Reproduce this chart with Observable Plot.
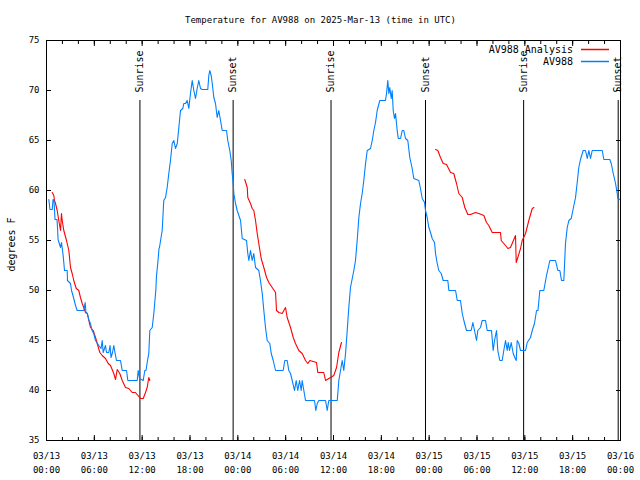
<!DOCTYPE html>
<html>
<head>
<meta charset="utf-8">
<script src="https://cdn.jsdelivr.net/npm/d3@7"></script>
<script src="https://cdn.jsdelivr.net/npm/@observablehq/plot@0.6"></script>
<style>
  html, body { margin: 0; padding: 0; background: #ffffff; }
  #chart { width: 640px; height: 480px; }
</style>
</head>
<body>
<div id="chart"></div>
<script>
// ---- Data (hours after 2025-03-13 00:00 UTC, temperature in °F) ----
const chartTitle = "Temperature for AV988 on 2025-Mar-13 (time in UTC)";
const yLabel = "degrees F";
const seriesNames = ["AV988 Analysis", "AV988"];
const startUTC = Date.UTC(2025, 2, 13, 0, 0);
const spanHours = 72;

// AV988 observations
const obsHours = [0.29,0.44,0.72,0.82,0.94,1.07,1.32,1.40,1.45,1.76,1.88,2.01,2.09,2.26,2.60,2.63,3.01,3.14,3.42,3.64,3.85,4.68,4.85,4.95,5.14,5.33,5.52,5.71,5.93,6.15,6.40,6.56,6.84,6.99,7.11,7.40,7.53,7.81,7.97,8.09,8.28,8.44,8.59,8.78,9.28,9.50,10.04,10.20,11.38,11.50,11.67,12.13,12.33,12.48,12.67,12.83,12.96,13.26,13.46,13.71,13.80,13.99,14.11,14.17,14.51,14.71,14.93,15.14,15.34,15.55,15.77,15.97,16.18,16.40,16.60,16.81,17.10,17.22,17.44,17.65,17.85,18.06,18.28,18.48,18.69,18.90,19.10,19.32,19.53,20.23,20.36,20.48,20.66,20.79,20.99,21.20,21.41,21.61,21.83,22.04,22.58,22.74,22.99,23.17,23.29,23.42,23.50,23.71,23.92,24.34,24.55,25.09,25.25,25.38,25.59,25.80,26.00,26.22,26.63,26.84,27.06,27.26,27.47,27.68,28.01,28.19,28.44,28.73,29.69,29.89,30.19,30.39,30.61,30.82,31.11,31.32,31.52,31.74,31.95,32.07,32.28,32.49,33.62,33.78,33.96,34.16,35.00,35.21,35.41,36.47,36.67,36.88,37.09,37.29,37.51,37.72,37.92,38.13,38.55,38.76,38.97,39.18,39.39,39.60,39.80,40.02,40.23,40.64,40.86,41.06,41.27,41.48,41.81,42.52,42.65,42.81,42.94,43.06,43.24,43.36,43.49,43.65,43.78,43.99,44.12,44.41,44.62,44.82,45.03,45.32,45.57,45.87,46.07,46.70,46.91,47.13,47.42,47.54,47.75,47.96,48.17,48.38,48.67,48.80,49.01,49.21,49.51,49.76,50.34,50.47,51.31,51.52,51.93,52.15,52.35,52.68,53.27,53.48,53.69,53.94,54.10,54.44,54.65,55.07,55.28,55.82,56.03,56.20,56.45,56.61,56.86,57.16,57.36,57.58,57.79,57.92,58.08,58.29,58.54,58.74,58.92,59.04,59.25,59.46,60.09,60.30,60.71,60.93,61.21,61.47,61.65,61.88,62.38,62.72,63.14,63.85,64.14,64.39,64.60,64.89,65.10,65.32,65.52,65.82,66.07,66.36,66.57,66.77,66.98,67.32,67.61,67.83,68.03,68.24,68.45,69.71,69.91,70.66,70.84,71.09,71.38,71.59,71.67,71.92];
const obsTemps = [59.1,58.1,58.1,59.1,59.0,57.1,57.1,56.0,55.1,54.3,54.8,54.0,53.5,52.0,52.0,51.0,50.7,50.0,49.2,48.5,48.0,48.0,48.8,47.8,47.7,47.0,46.7,46.0,45.7,45.0,44.7,44.5,44.2,45.0,43.8,44.5,43.8,43.8,44.5,43.3,43.8,44.5,43.8,43.0,43.0,42.0,42.0,41.0,41.0,42.0,41.2,41.0,42.0,42.0,43.0,43.7,46.0,46.3,47.7,50.0,51.5,53.0,54.2,54.3,56.0,59.0,59.3,60.3,61.7,63.0,64.7,65.0,64.2,64.7,66.3,68.0,68.2,68.7,68.7,69.0,68.2,69.7,71.0,70.0,69.2,70.2,71.0,70.2,70.1,70.1,71.5,72.0,71.5,70.7,69.3,68.7,67.3,68.0,67.0,66.0,66.0,65.0,64.0,63.0,61.7,60.7,59.7,58.7,58.0,57.0,55.2,55.0,53.7,53.0,54.0,53.0,53.7,52.3,52.0,51.0,49.7,48.0,46.3,45.0,44.7,43.7,43.0,42.0,42.0,43.0,43.0,42.0,41.7,41.0,40.0,41.0,40.0,41.0,40.0,41.0,40.0,39.0,39.0,38.0,38.7,39.0,39.0,38.0,39.0,39.0,41.0,42.0,43.0,42.0,43.7,46.0,48.3,50.3,52.0,53.0,55.0,57.3,58.7,59.7,61.0,62.7,64.0,64.2,65.0,66.0,66.8,68.0,69.0,69.0,69.7,71.0,69.7,70.3,69.2,70.0,68.0,67.2,67.7,66.0,65.2,65.2,66.0,66.0,65.2,65.0,63.3,62.2,61.2,61.0,60.2,59.2,58.8,58.0,57.3,56.3,55.8,55.2,54.8,53.7,52.7,52.0,51.7,51.0,51.0,50.0,50.0,49.0,49.0,47.7,47.0,46.0,46.0,46.8,46.0,45.0,46.0,46.3,47.0,47.0,46.0,46.0,44.0,45.0,46.0,44.0,43.0,43.0,44.0,45.0,44.0,44.8,44.0,44.8,43.7,43.3,43.0,45.0,44.7,44.0,44.0,44.8,45.3,46.0,46.7,48.0,48.0,50.0,50.0,51.5,53.0,53.0,52.0,52.0,51.0,51.0,54.7,56.3,57.0,57.2,58.2,59.3,60.8,62.3,63.1,64.0,64.0,63.2,64.0,63.2,64.0,64.0,63.1,63.1,62.7,61.7,60.7,59.7,59.2,59.1];

// AV988 Analysis: three separate runs
const anaHours1 = [0.72,0.92,1.00,1.13,1.34,1.54,1.76,1.88,1.97,2.17,2.51,2.80,3.01,3.22,3.42,3.73,4.05,4.26,4.48,4.68,4.89,5.11,5.31,5.52,5.86,6.15,6.36,6.69,6.99,7.40,7.74,8.03,8.44,8.66,8.87,9.19,9.50,9.91,10.32,10.75,11.16,11.58,11.79,12.13,12.42,12.63,12.83,12.96];
const anaTemps1 = [59.8,59.5,59.0,58.7,58.0,57.0,56.0,57.7,57.0,56.0,55.0,54.0,52.3,51.7,51.0,50.2,50.0,49.3,48.7,48.3,47.8,47.7,47.0,46.3,46.0,45.3,44.7,43.8,43.5,43.2,42.7,42.5,41.7,41.1,42.1,41.7,41.0,40.3,40.2,39.8,39.8,39.4,39.2,39.2,39.8,40.3,41.3,41.0];
const anaHours2 = [24.87,25.18,25.25,25.59,25.80,26.00,26.22,26.43,26.63,26.93,27.26,27.60,27.89,28.31,28.73,28.85,29.14,29.57,29.98,30.19,30.61,30.95,31.23,31.65,32.07,32.49,32.78,33.03,33.87,34.03,34.78,35.00,35.63,36.04,36.38,36.67,37.00];
const anaTemps2 = [61.1,60.3,59.3,58.7,58.2,58.0,57.0,55.7,54.7,53.2,52.3,51.3,50.8,50.3,49.8,48.0,47.8,47.7,48.3,47.3,46.3,45.3,44.7,44.0,43.7,43.0,42.7,43.0,42.8,41.8,41.8,41.0,41.3,41.5,42.3,43.8,44.8];
const anaHours3 = [48.80,49.09,49.42,49.76,50.18,50.68,51.09,51.43,51.72,52.15,52.47,52.85,53.19,53.81,54.23,54.86,55.19,55.48,55.91,56.95,57.04,57.58,57.87,58.20,58.83,58.92,59.12,59.46,59.67,60.09,60.50,60.93,61.13];
const anaTemps3 = [64.1,64.0,63.3,62.7,62.6,61.8,61.7,60.7,59.7,59.3,58.3,57.6,57.6,57.8,57.7,57.5,56.8,56.5,55.8,55.8,55.0,54.5,54.2,54.3,55.5,52.8,53.3,54.2,55.0,55.7,57.0,58.2,58.3];

const sunLabels = ["Sunrise", "Sunset", "Sunrise", "Sunset", "Sunrise", "Sunset"];
const sunHours = [11.72, 23.41, 35.69, 47.54, 59.85, 71.71];

const yTicks = [35, 40, 45, 50, 55, 60, 65, 70, 75];
const majorStepHours = 6;
const minorStepHours = 2;

// ---- build tables ----
const toDate = h => new Date(startUTC + h * 3600e3);
const obs = obsHours.map((h, i) => ({t: toDate(h), v: obsTemps[i]}));
const ana = [[anaHours1, anaTemps1], [anaHours2, anaTemps2], [anaHours3, anaTemps3]]
  .flatMap(([hs, vs], run) => hs.map((h, i) => ({t: toDate(h), v: vs[i], run})));
const sun = sunHours.map((h, i) => ({t: toDate(h), label: sunLabels[i]}));
const t0 = toDate(0), t1 = toDate(spanHours);
const majorTicks = d3.utcHour.every(majorStepHours).range(t0, new Date(+t1 + 1));
const minorTicks = d3.utcHour.every(minorStepHours).range(t0, new Date(+t1 + 1));
const fmt = d3.utcFormat("%m/%d\n%H:%M");

const FONT = "'DejaVu Sans Mono', monospace";
const RED = "#ff0000", BLUE = "#0080ff";
const blank = () => "";

const chart = Plot.plot({
  width: 640,
  height: 480,
  marginTop: 40,
  marginBottom: 40,
  marginLeft: 46,
  marginRight: 20,
  style: {fontFamily: FONT, fontSize: "9px", background: "#ffffff", color: "#000"},
  x: {type: "utc", domain: [t0, t1]},
  y: {domain: [35, 75]},
  marks: [
    // tick marks (inward, mirrored)
    Plot.axisX({anchor: "bottom", ticks: minorTicks, tickSize: 3, dy: -3, tickFormat: blank, label: null}),
    Plot.axisX({anchor: "top", ticks: minorTicks, tickSize: 3, dy: 3, tickFormat: blank, label: null}),
    Plot.axisX({anchor: "bottom", ticks: majorTicks, tickSize: 5, dy: -5, tickFormat: blank, label: null}),
    Plot.axisX({anchor: "top", ticks: majorTicks, tickSize: 5, dy: 5, tickFormat: blank, label: null}),
    Plot.axisY({anchor: "left", ticks: yTicks, tickSize: 5, dx: 5, tickFormat: blank, label: null}),
    Plot.axisY({anchor: "right", ticks: yTicks, tickSize: 5, dx: -5, tickFormat: blank, label: null}),
    // tick labels
    Plot.axisX({anchor: "bottom", ticks: majorTicks, tickSize: 0, tickPadding: 9, tickFormat: fmt, lineHeight: 1.55, label: null}),
    Plot.axisY({anchor: "left", ticks: yTicks, tickSize: 0, tickPadding: 7, label: null}),
    // sunrise / sunset markers
    Plot.ruleX(sun, {x: "t", insetTop: 60, stroke: "#000", strokeWidth: 1}),
    Plot.text(sun, {x: "t", text: "label", frameAnchor: "top", dy: 52, rotate: -90, textAnchor: "start", lineAnchor: "middle", fontSize: 10, fill: "#000"}),
    // series
    Plot.line(ana, {x: "t", y: "v", z: "run", stroke: RED, strokeWidth: 1.1}),
    Plot.line(obs, {x: "t", y: "v", stroke: BLUE, strokeWidth: 1.1}),
    Plot.frame({stroke: "#000"}),
    // title and y label
    Plot.text([chartTitle], {frameAnchor: "top", dx: -13, dy: -20, lineAnchor: "middle", textAnchor: "middle", fill: "#000"}),
    Plot.text([yLabel], {frameAnchor: "left", dx: -35, dy: 4, rotate: -90, textAnchor: "middle", lineAnchor: "middle", fontSize: 10, fill: "#000"})
  ]
});

// legend (inside the frame, top right)
const svg = d3.select(chart);
const legendRows = [{name: seriesNames[0], color: RED, y: 50}, {name: seriesNames[1], color: BLUE, y: 62}];
const lg = svg.append("g").attr("class", "legend");
for (const r of legendRows) {
  lg.append("text").attr("x", 573).attr("y", r.y).attr("dy", "0.32em")
    .attr("text-anchor", "end").attr("font-family", FONT).attr("font-size", 10).style("fill", "#000").text(r.name);
  lg.append("path").attr("d", `M581,${r.y - 0.5}H609`)
    .style("stroke", r.color).style("stroke-width", "1.5px").style("fill", "none");
}
document.getElementById("chart").appendChild(chart);
</script>
</body>
</html>
